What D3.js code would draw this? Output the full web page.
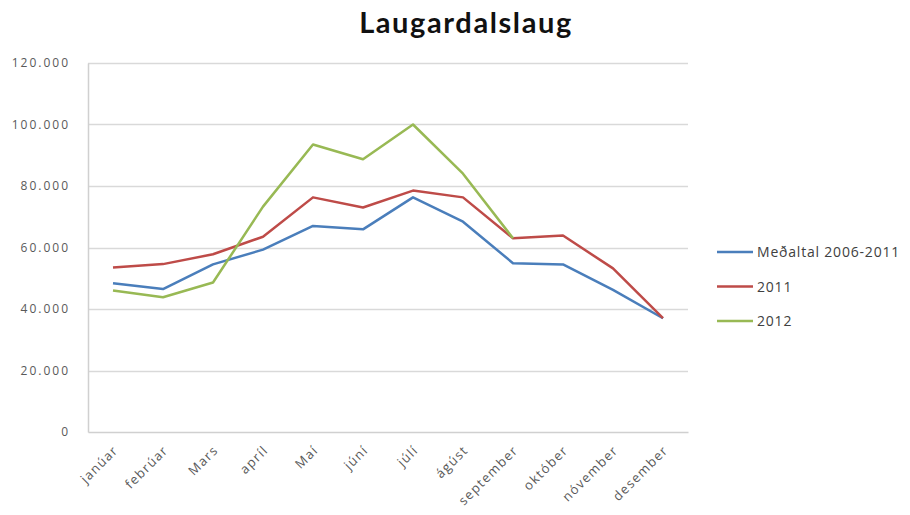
<!DOCTYPE html>
<html>
<head>
<meta charset="utf-8">
<script src="https://cdn.jsdelivr.net/npm/d3@7"></script>
<style>
  body { margin: 0; background: #fff; }
  svg { display: block; }
</style>
</head>
<body>
<svg id="svg" width="910" height="515"></svg>
<script>
// chart data
var months = ["janúar", "febrúar", "Mars", "apríl", "Maí", "júní", "júlí", "ágúst", "september", "október", "nóvember", "desember"];
var medaltal = [48400, 46500, 54500, 59300, 67000, 65900, 76300, 68400, 54900, 54500, 46200, 37000];
var y2011 = [53500, 54600, 57800, 63500, 76300, 73000, 78500, 76300, 63000, 63900, 53200, 37000];
var y2012 = [46000, 43800, 48600, 73300, 93500, 88700, 100000, 84000, 63000, null, null, null];
var yTicks = [0, 20000, 40000, 60000, 80000, 100000, 120000];

var series = [
  {name: "Meðaltal 2006-2011", values: medaltal, color: "#4a7ebb"},
  {name: "2011", values: y2011, color: "#be4b48"},
  {name: "2012", values: y2012, color: "#98b954"}
];

var svg = d3.select("#svg");
var plot = {left: 88, right: 688, top: 63, bottom: 432};

var x = d3.scaleBand().domain(months).range([plot.left, plot.right]);
var y = d3.scaleLinear().domain([0, 120000]).range([plot.bottom, plot.top]);

var locale = d3.formatLocale({decimal: ",", thousands: ".", grouping: [3], currency: ["", " kr."]});
var fmt = locale.format(",d");

// title
svg.append("text")
  .attr("x", 466).attr("y", 33)
  .attr("text-anchor", "middle")
  .attr("font-family", "Lato, 'Open Sans', sans-serif")
  .attr("font-weight", "bold")
  .attr("font-size", 29)
  .attr("letter-spacing", 1.6)
  .attr("fill", "#111")
  .text("Laugardalslaug");

// gridlines
svg.append("g").selectAll("line")
  .data(yTicks.filter(function(d) { return d > 0; }))
  .join("line")
  .attr("x1", plot.left).attr("x2", plot.right)
  .attr("y1", function(d) { return Math.round(y(d)) + 0.5; })
  .attr("y2", function(d) { return Math.round(y(d)) + 0.5; })
  .attr("stroke", "#d9d9d9")
  .attr("stroke-width", 1.5);

// y axis
var yAxis = svg.append("g")
  .attr("transform", "translate(" + plot.left + ",0)")
  .call(d3.axisLeft(y).tickValues(yTicks).tickFormat(fmt).tickSize(0).tickPadding(18));
yAxis.select(".domain").attr("stroke", "#d0d0d0").attr("stroke-width", 1.5);
yAxis.selectAll("text")
  .attr("font-family", "'Open Sans', sans-serif")
  .attr("font-size", 12)
  .attr("letter-spacing", 2)
  .attr("fill", "#595959");

// x axis
var xAxis = svg.append("g")
  .attr("transform", "translate(0," + plot.bottom + ")")
  .call(d3.axisBottom(x).tickSize(0).tickSizeOuter(0));
xAxis.select(".domain").attr("stroke", "#d0d0d0").attr("stroke-width", 1.5);
xAxis.selectAll("text")
  .attr("font-family", "'Open Sans', sans-serif")
  .attr("font-size", 13)
  .attr("letter-spacing", 1.3)
  .attr("fill", "#595959")
  .attr("text-anchor", "end")
  .attr("dy", 0)
  .attr("y", 0)
  .attr("transform", "translate(6,19) rotate(-45)");

// lines
var line = d3.line()
  .defined(function(d) { return d != null; })
  .x(function(d, i) { return x(months[i]) + x.bandwidth() / 2; })
  .y(function(d) { return y(d); });

svg.append("g").selectAll("path")
  .data(series)
  .join("path")
  .attr("d", function(s) { return line(s.values); })
  .attr("fill", "none")
  .attr("stroke", function(s) { return s.color; })
  .attr("stroke-width", 2.5)
  .attr("stroke-linejoin", "round");

// legend
var legend = svg.append("g").selectAll("g")
  .data(series)
  .join("g")
  .attr("transform", function(s, i) { return "translate(717," + (252 + i * 34.5) + ")"; });
legend.append("line")
  .attr("x1", 0).attr("x2", 36)
  .attr("stroke", function(s) { return s.color; })
  .attr("stroke-width", 2.5);
legend.append("text")
  .attr("x", 40).attr("y", 5)
  .attr("font-family", "'Open Sans', sans-serif")
  .attr("font-size", 14)
  .attr("letter-spacing", 0.8)
  .attr("fill", "#404040")
  .text(function(s) { return s.name; });
</script>
</body>
</html>
